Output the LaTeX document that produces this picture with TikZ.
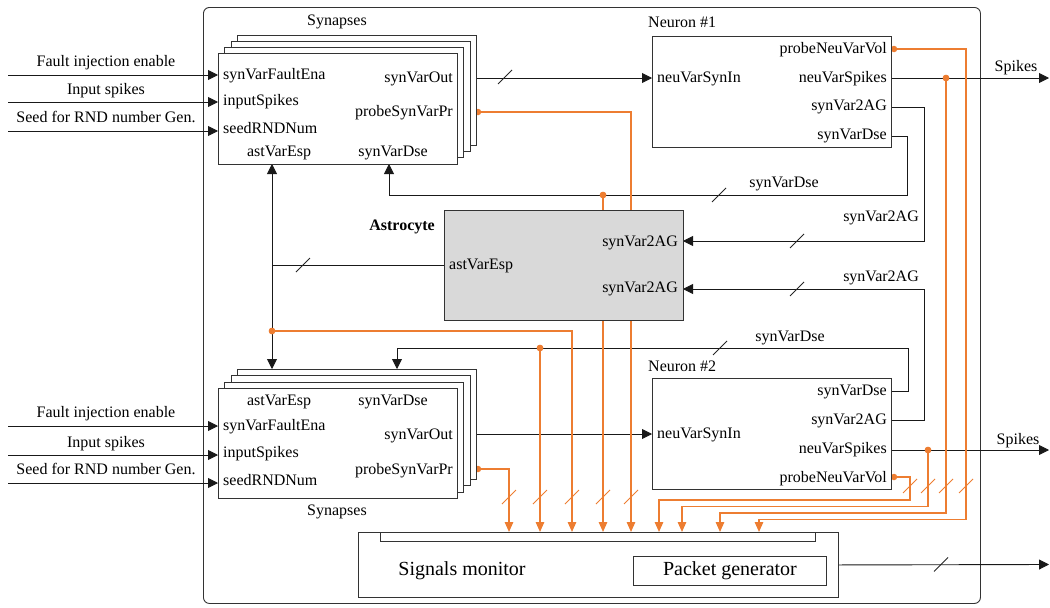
\documentclass[tikz,border=0pt]{standalone}
\usepackage{fontspec}
\setmainfont{Liberation Serif}
\usetikzlibrary{arrows.meta}
\definecolor{orng}{RGB}{237,125,49}
\definecolor{astro}{RGB}{217,217,217}
\newcommand\slashmk[2][black!85]{\draw[#1, line width=0.9pt] (#2) ++(-7,7) -- ++(14,-14);}
\begin{document}
\begin{tikzpicture}[x=1pt,y=-1pt,
  every node/.style={font=\fontsize{16}{18}\selectfont, inner sep=0pt},
  box/.style={draw=black!80, line width=0.9pt, fill=white, anchor=north west},
  wire/.style={draw=black!90, line width=0.9pt},
  owire/.style={draw=orng, line width=1.4pt},
  tip/.style={-{Triangle[length=10pt,width=10pt]}},
  otip/.style={-{Triangle[length=10pt,width=8.5pt]}},
  odot/.style={circle, fill=orng, minimum size=6.5pt, inner sep=0pt},
  txt/.style={text height=11pt, text depth=3.5pt},
  big/.style={font=\fontsize{20}{24}\selectfont, text height=14pt, text depth=4.5pt},
]
\useasboundingbox (0,0) rectangle (1050,608);

% outer frame
\node[box, fill=none, rounded corners=6pt, minimum width=777pt, minimum height=596pt] (outer) at (203,7) {};

% port coordinates
\coordinate (n1vol) at (891,49);
\coordinate (n1spk) at (891,78);
\coordinate (n1ag) at (891,107);
\coordinate (n1dse) at (891,136);
\coordinate (n1in) at (652,78);
\coordinate (n2dse) at (891,391);
\coordinate (n2ag) at (891,420);
\coordinate (n2spk) at (891,450);
\coordinate (n2vol) at (891,477);
\coordinate (n2in) at (652,434);
\coordinate (s1out) at (476,78);
\coordinate (s1pr) at (476,112);
\coordinate (s1esp) at (272,164);
\coordinate (s1dse) at (389,164);
\coordinate (s2out) at (476,434);
\coordinate (s2pr) at (476,469);
\coordinate (s2esp) at (272,369);
\coordinate (s2dse) at (397,369);
\coordinate (aesp) at (444,265);
\coordinate (aag1) at (683,241);
\coordinate (aag2) at (683,289);
\coordinate (sp1) at (1049,78);
\coordinate (sp2) at (1049,450);
\coordinate (outp) at (1049,564.5);
\coordinate (d1) at (907,195);
\coordinate (d2) at (908,348);
\coordinate (g1) at (924,241);
\coordinate (g2) at (924,289);
\coordinate (r1) at (910,500);
\coordinate (r2) at (928,506.5);
\coordinate (r3) at (946,513);
\coordinate (r4) at (966,519.5);
\coordinate (m1) at (509,532);
\coordinate (m2) at (540,532);
\coordinate (m3) at (572,532);
\coordinate (m4) at (603,532);
\coordinate (m5) at (631,532);
\coordinate (m6) at (659,532);
\coordinate (m7) at (682,532);
\coordinate (m8) at (720,532);
\coordinate (m9) at (759,532);
\coordinate (in1a) at (8,75);
\coordinate (in1b) at (8,102);
\coordinate (in1c) at (8,131);
\coordinate (in2a) at (8,426);
\coordinate (in2b) at (8,455);
\coordinate (in2c) at (8,483);

% black wires
\draw[wire,tip] (in1a) -- (in1a -| 218,0);
\draw[wire,tip] (in1b) -- (in1b -| 218,0);
\draw[wire,tip] (in1c) -- (in1c -| 218,0);
\draw[wire,tip] (in2a) -- (in2a -| 218,0);
\draw[wire,tip] (in2b) -- (in2b -| 218,0);
\draw[wire,tip] (in2c) -- (in2c -| 218,0);
\draw[wire,{Triangle[length=10pt,width=10pt]}-{Triangle[length=10pt,width=10pt]}] (s1esp) -- (s2esp);
\draw[wire] (aesp) -- (aesp -| s1esp);
\draw[wire,tip] (s1out) -- (n1in);
\draw[wire,tip] (s2out) -- (n2in);
\draw[wire,tip] (n1dse) -| (d1) -| (s1dse);
\draw[wire,tip] (n2dse) -| (d2) -| (s2dse);
\draw[wire,tip] (n1ag) -| (g1) -- (aag1);
\draw[wire,tip] (n2ag) -| (g2) -- (aag2);
\draw[wire,tip] (n1spk) -- (sp1);
\draw[wire,tip] (n2spk) -- (sp2);

% orange wires
\node[odot] (dA) at (540,348) {};
\node[odot] (dB) at (272,331) {};
\node[odot] (dC) at (603,195) {};
\node[odot] (dD) at (928,450) {};
\node[odot] (dE) at (946,78) {};
\draw[owire,otip] (s2pr) -| (m1);
\draw[owire,otip] (dA.center) -- (m2);
\draw[owire,otip] (dB.center) -| (m3);
\draw[owire,otip] (dC.center) -- (m4);
\draw[owire,otip] (s1pr) -| (m5);
\draw[owire,otip] (n2vol) -| (r1) -| (m6);
\draw[owire,otip] (dD.center) -- (r2) -| (m7);
\draw[owire,otip] (dE.center) -- (r3) -| (m8);
\draw[owire,otip] (n1vol) -| (r4) -| (m9);
\node[odot] at (478,112) {};
\node[odot] at (478,469) {};
\node[odot] at (894,49) {};
\node[odot] at (894,477) {};
\node[odot] at (dA) {};
\node[odot] at (dB) {};
\node[odot] at (dC) {};
\node[odot] at (dD) {};
\node[odot] at (dE) {};

% slashes
\slashmk{505,77}
\slashmk{719,195}
\slashmk{797,241}
\slashmk{797,289}
\slashmk{303,265}
\slashmk{720,348}
\slashmk{941,564.5}
\slashmk[orng]{509,497}
\slashmk[orng]{540,497}
\slashmk[orng]{572,497}
\slashmk[orng]{603,497}
\slashmk[orng]{631,497}
\slashmk[orng]{910,486}
\slashmk[orng]{928,486}
\slashmk[orng]{946,486}
\slashmk[orng]{966,486}

% top synapses
\node[box, minimum width=239pt, minimum height=110pt] (s1d) at (237,35) {};
\node[box, minimum width=239pt, minimum height=110pt] (s1c) at (231,41) {};
\node[box, minimum width=239pt, minimum height=110pt] (s1b) at (224,47) {};
\node[box, minimum width=239pt, minimum height=111pt] (s1) at (218,53) {};
% bottom synapses
\node[box, minimum width=239pt, minimum height=110pt] (s2d) at (237,369) {};
\node[box, minimum width=239pt, minimum height=110pt] (s2c) at (231,375) {};
\node[box, minimum width=239pt, minimum height=110pt] (s2b) at (224,382) {};
\node[box, minimum width=239pt, minimum height=110pt] (s2) at (218,388) {};
% neurons
\node[box, minimum width=239pt, minimum height=111pt] (n1) at (652,36) {};
\node[box, minimum width=239pt, minimum height=111pt] (n2) at (652,378) {};
% astrocyte
\node[box, fill=astro, minimum width=239pt, minimum height=110pt] (ast) at (444,210) {};
% monitor
\node[box, minimum width=480pt, minimum height=65pt] (mon) at (358,532) {};
\node[box, minimum width=435pt, minimum height=9pt] (bar) at (380,532) {};
\node[box, minimum width=193pt, minimum height=29pt] (pkt) at (633,556) {};
\draw[wire,tip] (mon.east) -- (outp);

% texts: inputs
\node[txt] (t1) at (106,63) {Fault injection enable};
\node[txt] (t2) at (106,91) {Input spikes};
\node[txt] (t3) at (106,119) {Seed for RND number Gen.};
\node[txt] (t4) at (106,414) {Fault injection enable};
\node[txt] (t5) at (106,444) {Input spikes};
\node[txt] (t6) at (106,471) {Seed for RND number Gen.};

% top synapse texts
\node[txt] (l1) at (337,22) {Synapses};
\node[txt, anchor=west] (p1) at (223,76) {synVarFaultEna};
\node[txt, anchor=west] (p2) at (223,102) {inputSpikes};
\node[txt, anchor=west] (p3) at (223,130) {seedRNDNum};
\node[txt] (p4) at (279,153) {astVarEsp};
\node[txt, anchor=east] (p5) at (453,79) {synVarOut};
\node[txt, anchor=east] (p6) at (453,113) {probeSynVarPr};
\node[txt] (p7) at (393,153) {synVarDse};
% bottom synapse texts
\node[txt] (l2) at (337,512) {Synapses};
\node[txt] (q4) at (279,402) {astVarEsp};
\node[txt] (q7) at (393,402) {synVarDse};
\node[txt, anchor=west] (q1) at (223,427) {synVarFaultEna};
\node[txt, anchor=east] (q5) at (453,436) {synVarOut};
\node[txt, anchor=west] (q2) at (223,454) {inputSpikes};
\node[txt, anchor=east] (q6) at (453,471) {probeSynVarPr};
\node[txt, anchor=west] (q3) at (223,482) {seedRNDNum};

% neuron 1 texts
\node[txt, anchor=west] (l3) at (648,24) {Neuron \#1};
\node[txt, anchor=east] (u1) at (887,50) {probeNeuVarVol};
\node[txt, anchor=east] (u2) at (887,79) {neuVarSpikes};
\node[txt, anchor=east] (u3) at (887,107) {synVar2AG};
\node[txt, anchor=east] (u4) at (887,136) {synVarDse};
\node[txt, anchor=west] (u5) at (657,79) {neuVarSynIn};
% neuron 2 texts
\node[txt, anchor=west] (l4) at (648,368) {Neuron \#2};
\node[txt, anchor=east] (v1) at (887,392) {synVarDse};
\node[txt, anchor=east] (v2) at (887,421) {synVar2AG};
\node[txt, anchor=east] (v3) at (887,450) {neuVarSpikes};
\node[txt, anchor=east] (v4) at (887,479) {probeNeuVarVol};
\node[txt, anchor=west] (v5) at (657,435) {neuVarSynIn};

% astrocyte texts
\node[txt, anchor=east, font=\fontsize{16}{18}\selectfont\bfseries] (l5) at (435,227) {Astrocyte};
\node[txt, anchor=west] (a1) at (449,266) {astVarEsp};
\node[txt, anchor=east] (a2) at (678,243) {synVar2AG};
\node[txt, anchor=east] (a3) at (678,289) {synVar2AG};

% wire labels
\node[txt] (w1) at (784,184) {synVarDse};
\node[txt, anchor=east] (w2) at (919,218) {synVar2AG};
\node[txt, anchor=east] (w3) at (919,278) {synVar2AG};
\node[txt] (w4) at (790,338) {synVarDse};
\node[txt] (w5) at (1016,68) {Spikes};
\node[txt] (w6) at (1018,441) {Spikes};

% monitor texts
\node[big] (m_t1) at (462,571) {Signals monitor};
\node[big] (m_t2) at (pkt.center) {Packet generator};
\end{tikzpicture}
\end{document}
